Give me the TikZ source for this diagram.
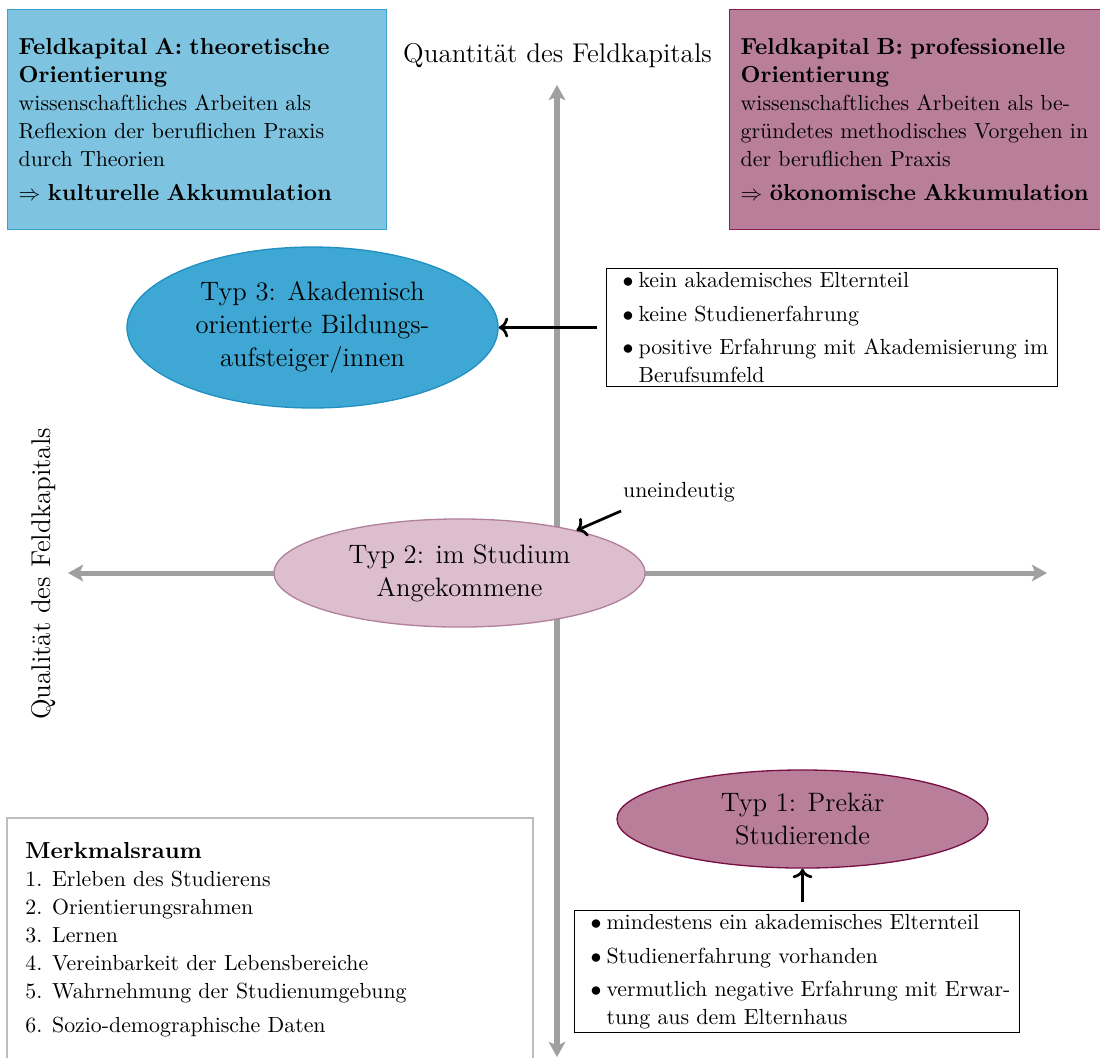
\documentclass[tikz,border=0pt]{standalone}
\usepackage{fontspec}
\usetikzlibrary{shapes.geometric,arrows.meta,fit}
\linespread{1.07}
\definecolor{boxAfill}{HTML}{7EC4E0}
\definecolor{boxAdraw}{HTML}{3AA2CF}
\definecolor{tthreefill}{HTML}{3FA7D3}
\definecolor{tthreedraw}{HTML}{2090C2}
\definecolor{boxBfill}{HTML}{B87E9A}
\definecolor{boxBdraw}{HTML}{8A1D52}
\definecolor{ttwofill}{HTML}{DCBECE}
\definecolor{ttwodraw}{HTML}{B0809C}
\definecolor{tonefill}{HTML}{B87E9A}
\definecolor{tonedraw}{HTML}{7A0F45}
\definecolor{axisgray}{HTML}{A0A0A0}
\definecolor{framegray}{HTML}{BDBDBD}
\newcommand\bitem{\hspace*{5.3pt}\makebox[7.3pt][l]{$\bullet$}}
\newcommand\bcont{\hspace*{12.6pt}}
\newcommand\bt[1]{{\fontsize{10.6}{12}\selectfont\bfseries #1}}
\begin{document}
\begin{tikzpicture}[x=0.45788pt,y=-0.45788pt,
 capbox/.style={draw, line width=0.6pt, rectangle, align=left, anchor=north west,
   text width=163.4pt, inner xsep=5.04pt, inner ysep=0pt, minimum height=100.7pt},
 typ/.style={ellipse, inner sep=0pt, minimum width=169.9pt, align=center,
   font=\fontsize{12.2}{14.2}\selectfont, line width=0.6pt},
 listbox/.style={draw, line width=0.6pt, align=left, anchor=north west, inner xsep=2pt, inner ysep=1.9pt},
 axisline/.style={draw=axisgray, line width=2.3pt,
   {Stealth[length=6.9pt,width=7.6pt,inset=1.6pt]}-{Stealth[length=6.9pt,width=7.6pt,inset=1.6pt]}},
 conn/.style={->, line width=1.25pt},
 lab/.style={font=\fontsize{12.4}{14.5}\selectfont, inner sep=0pt}
]
\useasboundingbox (0,0) rectangle (1100,1057);

% axes
\coordinate (vb) at (557,1057);
\coordinate (vt) at (557,85);
\coordinate (hl) at (68,573);
\coordinate (hr) at (1047,573);
\draw[axisline] (vb) -- (vt);
\draw[axisline] (hl) -- (hr);

% axis labels
\node[lab, anchor=base] (qn) at (557.5,62) {Quantität des Feldkapitals};
\node[lab, rotate=90, anchor=base] (ql) at (50,574) {Qualität des Feldkapitals};

% top boxes
\node[capbox, fill=boxAfill, draw=boxAdraw] (A) at (7,9)
 {\bt{Feldkapital A: theoretische}\\\bt{Orientierung}\\wissenschaftliches Arbeiten als\\Reflexion der beruflichen Praxis\\durch Theorien\\[2.7pt]$\Rightarrow$ \bt{kulturelle Akkumulation}};
\node[capbox, fill=boxBfill, draw=boxBdraw] (B) at (729,9)
 {\bt{Feldkapital B: professionelle}\\\bt{Orientierung}\\wissenschaftliches Arbeiten als be-\\gründetes methodisches Vorgehen in\\der beruflichen Praxis\\[2.7pt]$\Rightarrow$ \bt{ökonomische Akkumulation}};

% types
\node[typ, fill=tthreefill, draw=tthreedraw, minimum height=73.7pt] (t3) at (312.5,327.5)
 {Typ 3: Akademisch\\orientierte Bildungs-\\aufsteiger/innen};
\node[typ, fill=ttwofill, draw=ttwodraw, minimum height=49.5pt] (t2) at (459.5,573)
 {Typ 2: im Studium\\Angekommene};
\node[typ, fill=tonefill, draw=tonedraw, minimum height=44.9pt] (t1) at (802.5,819)
 {Typ 1: Prekär\\Studierende};

% lists
\node[listbox, text width=202.5pt] (b1) at (606,268)
 {\bitem kein akademisches Elternteil\\[2.3pt]\bitem keine Studienerfahrung\\[2.3pt]\bitem positive Erfahrung mit Akademisierung im\\\bcont Berufsumfeld};
\node[listbox, text width=199.8pt] (b2) at (574,910)
 {\bitem mindestens ein akademisches Elternteil\\[2.3pt]\bitem Studienerfahrung vorhanden\\[2.3pt]\bitem vermutlich negative Erfahrung mit Erwar-\\\bcont tung aus dem Elternhaus};

% Merkmalsraum
\node[draw=framegray, line width=0.6pt, inner sep=0pt, fit={(7,818) (533,1090)}] (M) {};
\node[anchor=north west, inner sep=0pt, align=left] (Mt) at (25,842)
 {\bt{Merkmalsraum}\\1. Erleben des Studierens\\2. Orientierungsrahmen\\3. Lernen\\4. Vereinbarkeit der Lebensbereiche\\5. Wahrnehmung der Studienumgebung\\[2.7pt]6. Sozio-demographische Daten};

% uneindeutig
\node[anchor=base, inner sep=0pt] (un) at (679,497) {uneindeutig};
\coordinate (uc) at (621,511);
\draw[conn] (uc) -- (t2.20);

% arrows
\draw[conn] ([xshift=-4.1pt]b1.west |- t3.east) -- (t3.east);
\coordinate (c1) at (802.5,902);
\draw[conn] (c1) -- (t1.south);
\end{tikzpicture}
\end{document}
